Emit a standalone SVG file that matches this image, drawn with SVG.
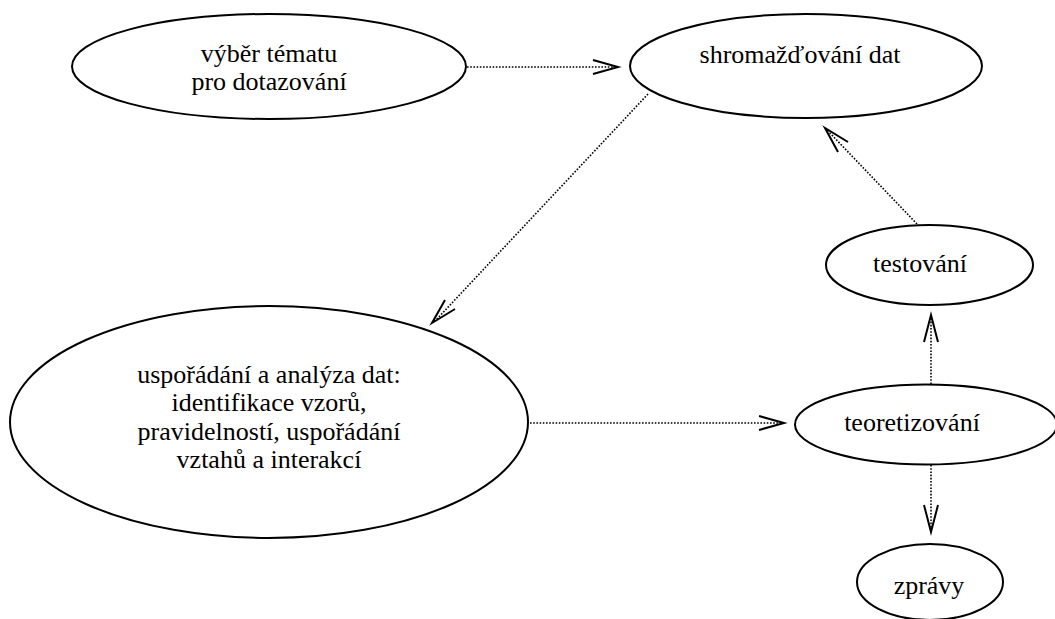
<svg xmlns="http://www.w3.org/2000/svg" width="1055" height="619" viewBox="0 0 1055 619">
<style>
.n{fill:#fff;stroke:#000;stroke-width:2}
text{font-family:'Liberation Serif','Times New Roman','DejaVu Serif',serif;font-size:26px;fill:#000;text-anchor:middle}
.c{stroke:#000;stroke-width:1.6;stroke-dasharray:1.6 1.6;fill:none}
.h{stroke:#000;stroke-width:2;fill:none}
</style>
<rect width="1055" height="619" fill="#fff"/>
<g id="connectors">
<line class="c" x1="467" y1="67" x2="616" y2="67"/>
<polyline class="h" points="593,60 618,67 593,74"/>
<line class="c" x1="648" y1="94" x2="436" y2="320"/>
<polyline class="h" points="445,300 432,323 455,309"/>
<line class="c" x1="917" y1="224" x2="828" y2="131"/>
<polyline class="h" points="838,152 825,128 848,142"/>
<line class="c" x1="931" y1="384" x2="931" y2="318"/>
<polyline class="h" points="924,342 931,315 938,342"/>
<line class="c" x1="530" y1="423" x2="782" y2="423"/>
<polyline class="h" points="759,416 784,423 759,430"/>
<line class="c" x1="931" y1="465" x2="931" y2="529"/>
<polyline class="h" points="924,505 931,532 938,505"/>
</g>
<g font-family="Liberation Serif, Times New Roman, serif" font-size="26">
<g id="n1">
<ellipse class="n" cx="269" cy="66.5" rx="197" ry="52.5"/>
<text x="269" y="62">výběr tématu</text>
<text x="269" y="90">pro dotazování</text>
</g>
<g id="n2">
<ellipse class="n" cx="806" cy="66" rx="176" ry="52"/>
<text x="800" y="63">shromažďování dat</text>
</g>
<g id="n3">
<ellipse class="n" cx="269" cy="422" rx="259" ry="116"/>
<text x="269" y="383">uspořádání a analýza dat:</text>
<text x="269" y="411">identifikace vzorů,</text>
<text x="269" y="440">pravidelností, uspořádání</text>
<text x="269" y="468">vztahů a interakcí</text>
</g>
<g id="n4">
<ellipse class="n" cx="929.5" cy="265" rx="103.5" ry="40"/>
<text x="920" y="272">testování</text>
</g>
<g id="n5">
<ellipse class="n" cx="926" cy="424.5" rx="131" ry="40"/>
<text x="912" y="431">teoretizování</text>
</g>
<g id="n6">
<ellipse class="n" cx="930" cy="582" rx="73" ry="38"/>
<text x="929" y="594">zprávy</text>
</g>
</g>
</svg>
